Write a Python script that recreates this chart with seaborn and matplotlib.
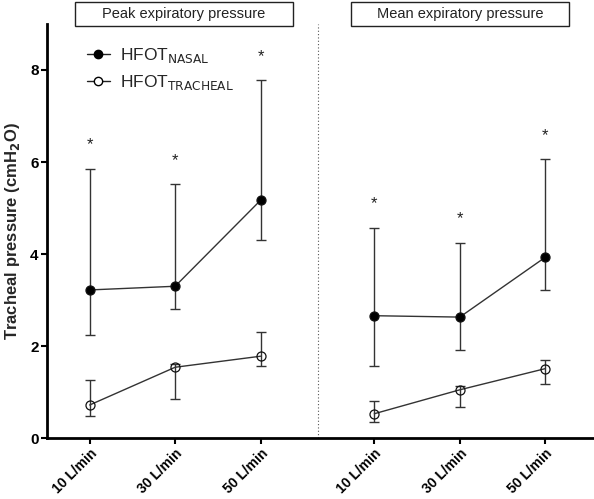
import numpy as np
import pandas as pd
import seaborn as sns
import matplotlib
matplotlib.use("Agg")
import matplotlib.pyplot as plt
from matplotlib.lines import Line2D

sns.set_theme(style="white")
plt.rcParams['font.family'] = ['Liberation Sans', 'DejaVu Sans']

flows = ["10 L/min", "30 L/min", "50 L/min"]
panels = ["Peak expiratory pressure", "Mean expiratory pressure"]

# Peak expiratory pressure
peak_nasal = [3.22, 3.30, 5.17]
peak_nasal_lo = [2.24, 2.80, 4.30]
peak_nasal_hi = [5.85, 5.53, 7.78]
peak_trach = [0.72, 1.54, 1.78]
peak_trach_lo = [0.49, 0.85, 1.57]
peak_trach_hi = [1.27, 1.60, 2.30]
peak_star = [6.37, 6.02, 8.30]

# Mean expiratory pressure
mean_nasal = [2.66, 2.63, 3.93]
mean_nasal_lo = [1.57, 1.91, 3.21]
mean_nasal_hi = [4.56, 4.25, 6.06]
mean_trach = [0.53, 1.05, 1.51]
mean_trach_lo = [0.34, 0.67, 1.17]
mean_trach_hi = [0.81, 1.14, 1.69]
mean_star = [5.10, 4.78, 6.57]

rows = []
for p, (nas, nlo, nhi, tr, tlo, thi) in enumerate([
        (peak_nasal, peak_nasal_lo, peak_nasal_hi, peak_trach, peak_trach_lo, peak_trach_hi),
        (mean_nasal, mean_nasal_lo, mean_nasal_hi, mean_trach, mean_trach_lo, mean_trach_hi)]):
    for i, f in enumerate(flows):
        rows.append(dict(panel=panels[p], flow=f, idx=i, series="NASAL", y=nas[i], lo=nlo[i], hi=nhi[i]))
        rows.append(dict(panel=panels[p], flow=f, idx=i, series="TRACHEAL", y=tr[i], lo=tlo[i], hi=thi[i]))
df = pd.DataFrame(rows)
offset = {panels[0]: 0.0, panels[1]: 3.33}
df["x"] = df["idx"] + df["panel"].map(offset)

fig = plt.figure(figsize=(5.94, 4.99), dpi=100)
ax = fig.add_axes([0.079, 0.122, 0.921, 0.830])

fills = {"NASAL": "black", "TRACHEAL": "white"}
for (panel, series), sub in df.groupby(["panel", "series"]):
    ax.errorbar(sub["x"], sub["y"], yerr=[sub["y"] - sub["lo"], sub["hi"] - sub["y"]],
                fmt="none", ecolor="#333333", elinewidth=1.0, capsize=3.5, capthick=1.0, zorder=2)
    sns.lineplot(data=sub, x="x", y="y", ax=ax, color="#333333", linewidth=1.0,
                 marker="o", markersize=6.5, markerfacecolor=fills[series],
                 markeredgecolor="#111111", markeredgewidth=0.9, zorder=3, legend=False)
    if series == "TRACHEAL":
        for l in ax.lines[-1:]:
            l.set_markerfacecolor("none")

for p, stars in enumerate([peak_star, mean_star]):
    for i, s in enumerate(stars):
        ax.text(i + offset[panels[p]], s, "*", ha="center", va="center", fontsize=12, color="#222222")

ax.axvline(2.67, color="#555555", linestyle=(0, (1, 2)), linewidth=0.8)

ax.set_xlim(-0.5, 5.9)
ax.set_ylim(0, 9)
ax.set_yticks([0, 2, 4, 6, 8])
xt = list(df.drop_duplicates("x").sort_values("x")["x"])
ax.set_xticks(xt)
ax.set_xticklabels(flows * 2, rotation=45, ha="right", rotation_mode="anchor",
                   fontsize=10, fontweight="bold")
for lab in ax.get_yticklabels():
    lab.set_fontweight("bold")
    lab.set_fontsize(11)
ax.set_xlabel("")
ax.set_ylabel("Tracheal pressure (cmH$_\\mathbf{2}$O)", fontsize=12, fontweight="bold", labelpad=6)

for s in ["top", "right"]:
    ax.spines[s].set_visible(False)
for s in ["left", "bottom"]:
    ax.spines[s].set_linewidth(2.0)
    ax.spines[s].set_color("black")
ax.tick_params(axis="both", direction="out", length=4, width=1.5, color="black", labelcolor="black",
               left=True, bottom=True, pad=2)

# panel title boxes
for p, (x0, x1) in enumerate([(75, 293), (351, 569)]):
    fx0, fx1 = x0 / 594, x1 / 594
    fig.patches.append(plt.Rectangle((fx0, 1 - 26 / 499), fx1 - fx0, 24 / 499, transform=fig.transFigure,
                                     fill=False, edgecolor="#222222", linewidth=1.0))
    fig.text((fx0 + fx1) / 2, 1 - 14 / 499, panels[p], ha="center", va="center", fontsize=10.5, color="#222222")

# legend
handles = [Line2D([], [], color="#222222", lw=1.0, marker="o", markersize=6, mfc="black", mec="black"),
           Line2D([], [], color="#222222", lw=1.0, marker="o", markersize=6, mfc="white", mec="black")]
ax.legend(handles, ["HFOT$_{\\mathrm{NASAL}}$", "HFOT$_{\\mathrm{TRACHEAL}}$"], loc="upper left",
          bbox_to_anchor=(0.045, 0.985), frameon=False, fontsize=12.5, handlelength=1.3,
          labelspacing=0.45, handletextpad=0.6)

fig.savefig("out.png", dpi=100)
